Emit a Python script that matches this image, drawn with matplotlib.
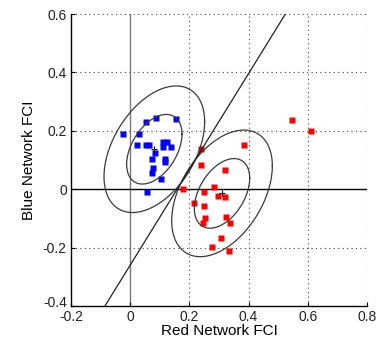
import numpy as np
import matplotlib.pyplot as plt
import matplotlib.transforms as mtransforms

plt.rcParams['font.family'] = ['Liberation Sans', 'DejaVu Sans']

# network FCI values
blue_x = [-0.025, 0.029, 0.055, 0.087, 0.155, 0.023, 0.054, 0.063, 0.110, 0.124,
          0.111, 0.137, 0.083, 0.073, 0.119, 0.119, 0.077, 0.073, 0.105, 0.058]
blue_y = [0.190, 0.190, 0.229, 0.245, 0.240, 0.150, 0.150, 0.150, 0.163, 0.163,
          0.143, 0.143, 0.125, 0.104, 0.104, 0.093, 0.071, 0.057, 0.035, -0.008]

red_x = [0.384, 0.239, 0.239, 0.320, 0.179, 0.249, 0.284, 0.295, 0.320, 0.217,
         0.249, 0.253, 0.246, 0.323, 0.336, 0.306, 0.275, 0.333, 0.547, 0.610]
red_y = [0.150, 0.136, 0.082, 0.065, -0.001, -0.008, 0.006, -0.023, -0.026, -0.046,
         -0.056, -0.097, -0.117, -0.094, -0.117, -0.167, -0.197, -0.212, 0.236, 0.200]

# shared (pooled) covariance of the outer contour, and contour radii
cov_shared = [[0.0289, 0.0160], [0.0160, 0.0470]]
radii = [0.55, 1.0]

xticks = [-0.2, 0, 0.2, 0.4, 0.6, 0.8]
yticks = [-0.4, -0.2, 0, 0.2, 0.4, 0.6]

fig = plt.figure(figsize=(3.91, 3.43), dpi=100)
ax = fig.add_axes([71 / 391, 37 / 343, 296 / 391, 292 / 343])

ax.set_xlim(-0.2, 0.8)
ax.set_ylim(-0.4, 0.6)
ax.set_xticks(xticks)
ax.set_yticks(yticks)
ax.set_xticklabels(['-0.2', '0', '0.2', '0.4', '0.6', '0.8'])
ax.set_yticklabels(['-0.4', '-0.2', '0', '0.2', '0.4', '0.6'])

# dotted grid
for v in xticks[1:]:
    if v != 0:
        ax.axvline(v, color='#444444', lw=0.8, ls=(0, (1, 3)), zorder=0)
for v in yticks[1:]:
    if v != 0:
        ax.axhline(v, color='#444444', lw=0.8, ls=(0, (1, 3)), zorder=0)

ax.axvline(0, color='#777777', lw=1, zorder=1)
ax.axhline(0, color='black', lw=1, zorder=1)

ax.plot(blue_x, blue_y, 's', color='#0000ff', ms=3.8, mec='none', zorder=2)
ax.plot(red_x, red_y, 's', color='#ff0000', ms=3.8, mec='none', zorder=2)

cov = np.array(cov_shared)
L = np.linalg.cholesky(cov)
t = np.linspace(0, 2 * np.pi, 300)
circ = np.vstack([np.cos(t), np.sin(t)])
means = []
for xs, ys in [(blue_x, blue_y), (red_x, red_y)]:
    m = np.array([np.mean(xs), np.mean(ys)])
    means.append(m)
    for r in radii:
        pts = m[:, None] + r * (L @ circ)
        ax.plot(pts[0], pts[1], color='#3a3a3a', lw=0.9, zorder=3)
    ax.plot(m[0], m[1], '+', color='black', ms=5, mew=0.8, zorder=4)

# linear boundary between the two groups
n = np.linalg.solve(cov, means[0] - means[1])
mid = (means[0] + means[1]) / 2
yy = np.array([-0.4, 0.6])
xx = mid[0] - n[1] * (yy - mid[1]) / n[0]
ax.plot(xx, yy, color='#222222', lw=0.9, zorder=3)

for s in ['top', 'right']:
    ax.spines[s].set_visible(False)
for s in ['left', 'bottom']:
    ax.spines[s].set_linewidth(1)
ax.tick_params(direction='in', length=3, labelsize=10, colors='black', labelcolor='#222222')
ax.tick_params(axis='x', pad=3)
ax.tick_params(axis='y', pad=3)

# nudge the corner label up so it clears the -0.2 below it
lab = ax.get_yticklabels()[0]
lab.set_transform(lab.get_transform() + mtransforms.ScaledTranslation(0, 3 / 72, fig.dpi_scale_trans))

ax.set_xlabel('Red Network FCI', fontsize=11, labelpad=0)
ax.set_ylabel('Blue Network FCI', fontsize=11, labelpad=5)

fig.savefig('out.png', dpi=100)
